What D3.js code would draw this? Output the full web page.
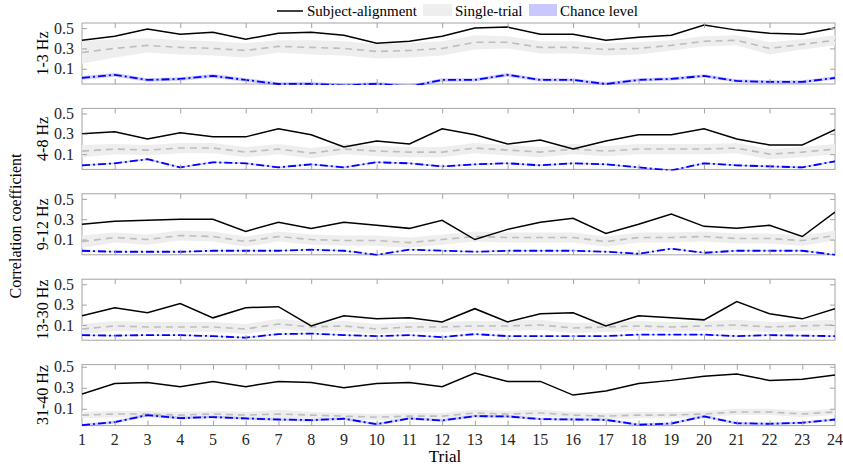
<!DOCTYPE html>
<html>
<head>
<meta charset="utf-8">
<script src="https://cdn.jsdelivr.net/npm/d3@7"></script>
<style>
  body { margin: 0; background: #fff; }
  text { font-family: "Liberation Serif", "Times New Roman", serif; }
</style>
</head>
<body>
<div id="container"></div>
<script>
/* DATA */
const trials = [1,2,3,4,5,6,7,8,9,10,11,12,13,14,15,16,17,18,19,20,21,22,23,24];
const bandNames = ["1-3 Hz", "4-8 Hz", "9-12 Hz", "13-30 Hz", "31-40 Hz"];
const yTicks = [0.1, 0.3, 0.5];
const legendLabels = ["Subject-alignment", "Single-trial", "Chance level"];

// one row per frequency band
const subjectAlignment = [
  [0.38,0.42,0.49,0.44,0.46,0.39,0.45,0.46,0.43,0.35,0.37,0.42,0.50,0.51,0.44,0.44,0.38,0.41,0.43,0.53,0.48,0.45,0.44,0.50],
  [0.30,0.32,0.25,0.31,0.27,0.27,0.35,0.29,0.17,0.23,0.20,0.35,0.29,0.20,0.24,0.15,0.23,0.29,0.29,0.35,0.25,0.19,0.19,0.34],
  [0.25,0.28,0.29,0.30,0.30,0.18,0.27,0.21,0.27,0.24,0.21,0.29,0.10,0.20,0.27,0.31,0.16,0.25,0.35,0.23,0.21,0.24,0.13,0.37],
  [0.19,0.27,0.22,0.31,0.17,0.27,0.28,0.09,0.19,0.16,0.17,0.13,0.26,0.13,0.21,0.22,0.09,0.19,0.17,0.15,0.33,0.21,0.16,0.26],
  [0.24,0.34,0.35,0.31,0.36,0.31,0.36,0.35,0.30,0.34,0.35,0.31,0.44,0.36,0.36,0.23,0.27,0.34,0.37,0.41,0.43,0.37,0.38,0.42]
];
const singleTrial = [
  [0.26,0.30,0.33,0.31,0.30,0.28,0.32,0.31,0.30,0.27,0.28,0.30,0.36,0.36,0.31,0.31,0.29,0.30,0.33,0.37,0.38,0.30,0.34,0.38],
  [0.13,0.15,0.14,0.16,0.16,0.12,0.15,0.11,0.15,0.13,0.12,0.12,0.16,0.14,0.12,0.15,0.13,0.15,0.15,0.15,0.16,0.10,0.12,0.15],
  [0.08,0.12,0.10,0.14,0.13,0.08,0.13,0.10,0.09,0.09,0.07,0.10,0.13,0.12,0.12,0.12,0.08,0.12,0.12,0.13,0.11,0.11,0.09,0.14],
  [0.06,0.09,0.08,0.08,0.08,0.06,0.11,0.08,0.09,0.06,0.08,0.08,0.09,0.09,0.10,0.07,0.08,0.09,0.08,0.09,0.10,0.08,0.09,0.10],
  [0.04,0.05,0.05,0.04,0.05,0.04,0.05,0.04,0.03,0.02,0.03,0.03,0.06,0.05,0.06,0.04,0.03,0.04,0.04,0.05,0.07,0.07,0.05,0.07]
];
const singleTrialSpread = [
  [0.11,0.09,0.07,0.07,0.07,0.07,0.06,0.07,0.07,0.07,0.07,0.07,0.07,0.06,0.06,0.06,0.06,0.06,0.05,0.05,0.05,0.06,0.05,0.05],
  [0.06,0.05,0.05,0.05,0.05,0.05,0.05,0.05,0.05,0.05,0.05,0.05,0.05,0.05,0.05,0.05,0.05,0.05,0.05,0.05,0.05,0.05,0.05,0.05],
  [0.06,0.05,0.05,0.05,0.05,0.05,0.05,0.05,0.05,0.05,0.05,0.05,0.05,0.05,0.05,0.05,0.05,0.05,0.05,0.05,0.05,0.05,0.05,0.05],
  [0.05,0.05,0.05,0.05,0.05,0.05,0.05,0.05,0.05,0.05,0.05,0.05,0.05,0.05,0.05,0.05,0.05,0.05,0.05,0.05,0.05,0.05,0.05,0.05],
  [0.03,0.03,0.03,0.03,0.03,0.03,0.04,0.03,0.03,0.03,0.03,0.03,0.03,0.03,0.03,0.03,0.03,0.03,0.03,0.03,0.03,0.03,0.03,0.03]
];
const chanceLevel = [
  [0.01,0.04,-0.01,0.00,0.03,-0.01,-0.05,-0.048,-0.065,-0.048,-0.075,-0.01,-0.01,0.04,-0.01,-0.01,-0.05,-0.01,0.00,0.03,-0.02,-0.03,-0.03,0.01],
  [-0.01,0.01,0.05,-0.03,0.02,0.01,-0.03,0.00,-0.03,0.02,0.01,-0.02,0.00,0.01,-0.01,0.01,0.00,-0.03,-0.06,0.01,-0.01,-0.02,-0.03,0.03],
  [-0.01,-0.02,-0.02,-0.02,-0.01,-0.01,-0.01,0.00,-0.01,-0.05,0.00,-0.01,-0.02,-0.01,-0.01,-0.01,-0.02,-0.04,0.01,-0.03,-0.01,-0.01,-0.01,-0.05],
  [0.00,-0.005,0.00,0.00,-0.01,-0.025,0.01,0.015,0.00,-0.01,0.00,-0.02,0.01,-0.01,-0.01,-0.01,-0.01,0.005,0.005,0.005,-0.01,0.00,-0.005,-0.01],
  [-0.056,-0.027,0.04,0.011,0.021,0.008,-0.002,-0.008,0.005,-0.046,0.008,-0.011,0.03,0.027,0.002,-0.002,-0.005,-0.052,-0.04,0.027,-0.037,-0.043,-0.033,-0.002]
];
const chanceSpread = [
  [0.018,0.018,0.017,0.017,0.018,0.017,0.017,0.017,0.017,0.017,0.017,0.017,0.016,0.017,0.016,0.016,0.016,0.016,0.016,0.017,0.016,0.016,0.016,0.016],
  [0.008,0.008,0.009,0.008,0.008,0.008,0.008,0.008,0.008,0.008,0.008,0.008,0.008,0.008,0.008,0.008,0.008,0.008,0.008,0.008,0.008,0.008,0.008,0.009],
  [0.006,0.006,0.006,0.006,0.006,0.006,0.006,0.006,0.006,0.006,0.006,0.006,0.006,0.006,0.006,0.006,0.006,0.006,0.006,0.006,0.006,0.006,0.006,0.006],
  [0.007,0.007,0.007,0.007,0.007,0.007,0.007,0.007,0.007,0.007,0.007,0.007,0.007,0.007,0.007,0.007,0.007,0.007,0.007,0.007,0.007,0.007,0.007,0.007],
  [0.012,0.012,0.014,0.012,0.012,0.012,0.012,0.012,0.012,0.012,0.012,0.012,0.013,0.012,0.012,0.012,0.012,0.012,0.012,0.013,0.012,0.012,0.012,0.012]
];
const yLimits = [[-0.05,0.55],[-0.05,0.55],[-0.05,0.55],[-0.05,0.55],[-0.06,0.52]];

/* CONSTANTS */
const width = 843, height = 468;
const left = 82, right = 835;
const panelTop = 23, panelStep = 85.4, panelH = 61;
const boxColor = "#a3a3a3";
const tickLen = 5;

const svg = d3.select("#container").append("svg")
  .attr("width", width).attr("height", height);

const xScale = d3.scaleLinear().domain([1, 24]).range([left, right]);

bandNames.forEach((name, i) => {
  const top = panelTop + i * panelStep;
  const yScale = d3.scaleLinear().domain(yLimits[i]).range([top + panelH, top]);
  const g = svg.append("g");

  // clip so lines below the axis get cut
  g.append("clipPath").attr("id", "clip" + i)
    .append("rect").attr("x", left).attr("y", top - 1).attr("width", right - left).attr("height", panelH + 2);

  const rows = trials.map((t, k) => ({
    t,
    a: subjectAlignment[i][k],
    s: singleTrial[i][k], ss: singleTrialSpread[i][k],
    c: chanceLevel[i][k], cs: chanceSpread[i][k]
  }));

  const plot = g.append("g").attr("clip-path", `url(#clip${i})`);

  // box first, data drawn over it
  g.insert("rect", "g")
    .attr("x", left).attr("y", top).attr("width", right - left).attr("height", panelH)
    .attr("fill", "none").attr("stroke", boxColor).attr("stroke-width", 1);

  // bands
  plot.append("path").datum(rows)
    .attr("fill", "#eeeeee")
    .attr("d", d3.area().x(d => xScale(d.t)).y0(d => yScale(d.s - d.ss)).y1(d => yScale(d.s + d.ss)));
  plot.append("path").datum(rows)
    .attr("fill", "#0000ff").attr("fill-opacity", 0.2)
    .attr("d", d3.area().x(d => xScale(d.t)).y0(d => yScale(d.c - d.cs)).y1(d => yScale(d.c + d.cs)));

  // lines
  plot.append("path").datum(rows)
    .attr("fill", "none").attr("stroke", "#bdbdbd").attr("stroke-width", 1.6)
    .attr("stroke-dasharray", "7,5")
    .attr("d", d3.line().x(d => xScale(d.t)).y(d => yScale(d.s)));
  plot.append("path").datum(rows)
    .attr("fill", "none").attr("stroke", "#0000ff").attr("stroke-width", 1.8)
    .attr("stroke-dasharray", "8,3,2,3")
    .attr("d", d3.line().x(d => xScale(d.t)).y(d => yScale(d.c)));
  plot.append("path").datum(rows)
    .attr("fill", "none").attr("stroke", "#000").attr("stroke-width", 1.5)
    .attr("d", d3.line().x(d => xScale(d.t)).y(d => yScale(d.a)));

  // y ticks both sides
  const yAxisL = d3.axisLeft(yScale).tickValues(yTicks).tickSize(-tickLen).tickPadding(8).tickFormat(d3.format(".1f"));
  const ya = g.append("g").attr("transform", `translate(${left},0)`).call(yAxisL);
  ya.select(".domain").remove();
  ya.selectAll("line").attr("stroke", boxColor);
  ya.selectAll("text").attr("fill", "#262626").style("font-size", "16px")
    .style("font-family", "'Liberation Serif', serif");
  const yAxisR = d3.axisRight(yScale).tickValues(yTicks).tickSize(-tickLen).tickFormat("");
  const yr = g.append("g").attr("transform", `translate(${right},0)`).call(yAxisR);
  yr.select(".domain").remove();
  yr.selectAll("line").attr("stroke", boxColor);

  // x ticks top and bottom
  const xt = i === 4 ? trials.slice(1, 23) : trials.filter(t => t % 2 === 0 && t < 24);
  const xTop = d3.axisTop(xScale).tickValues(xt).tickSize(-tickLen).tickFormat("");
  const xa = g.append("g").attr("transform", `translate(0,${top})`).call(xTop);
  xa.select(".domain").remove();
  xa.selectAll("line").attr("stroke", boxColor);
  const xBot = d3.axisBottom(xScale).tickValues(xt).tickSize(-tickLen).tickFormat("");
  const xb = g.append("g").attr("transform", `translate(0,${top + panelH})`).call(xBot);
  xb.select(".domain").remove();
  xb.selectAll("line").attr("stroke", boxColor);

  if (i === 4) {
    g.selectAll("text.xlab").data(trials).join("text")
      .attr("class", "xlab")
      .attr("x", d => xScale(d)).attr("y", top + panelH + 19)
      .attr("text-anchor", "middle").attr("fill", "#262626")
      .style("font-size", "16px").text(d => d);
  }

  // band label
  g.append("text")
    .attr("transform", `translate(48,${top + panelH / 2}) rotate(-90)`)
    .attr("text-anchor", "middle").style("font-size", "16px").attr("fill", "#000")
    .text(name);
});

// axis titles
svg.append("text")
  .attr("transform", `translate(21,226) rotate(-90)`)
  .attr("text-anchor", "middle").style("font-size", "16px")
  .text("Correlation coefficient");
svg.append("text")
  .attr("x", 445).attr("y", 462)
  .attr("text-anchor", "middle").style("font-size", "17px")
  .text("Trial");

// legend
const lg = svg.append("g");
lg.append("line").attr("x1", 277).attr("x2", 303).attr("y1", 11).attr("y2", 11)
  .attr("stroke", "#000").attr("stroke-width", 1.5);
lg.append("text").attr("x", 307).attr("y", 16).style("font-size", "15px").text(legendLabels[0]);
lg.append("rect").attr("x", 423).attr("y", 4).attr("width", 29).attr("height", 12).attr("fill", "#eeeeee");
lg.append("text").attr("x", 455).attr("y", 16).style("font-size", "15px").text(legendLabels[1]);
lg.append("rect").attr("x", 529).attr("y", 4).attr("width", 28).attr("height", 12).attr("fill", "#c8c8ff");
lg.append("text").attr("x", 560).attr("y", 16).style("font-size", "15px").text(legendLabels[2]);
</script>
</body>
</html>
